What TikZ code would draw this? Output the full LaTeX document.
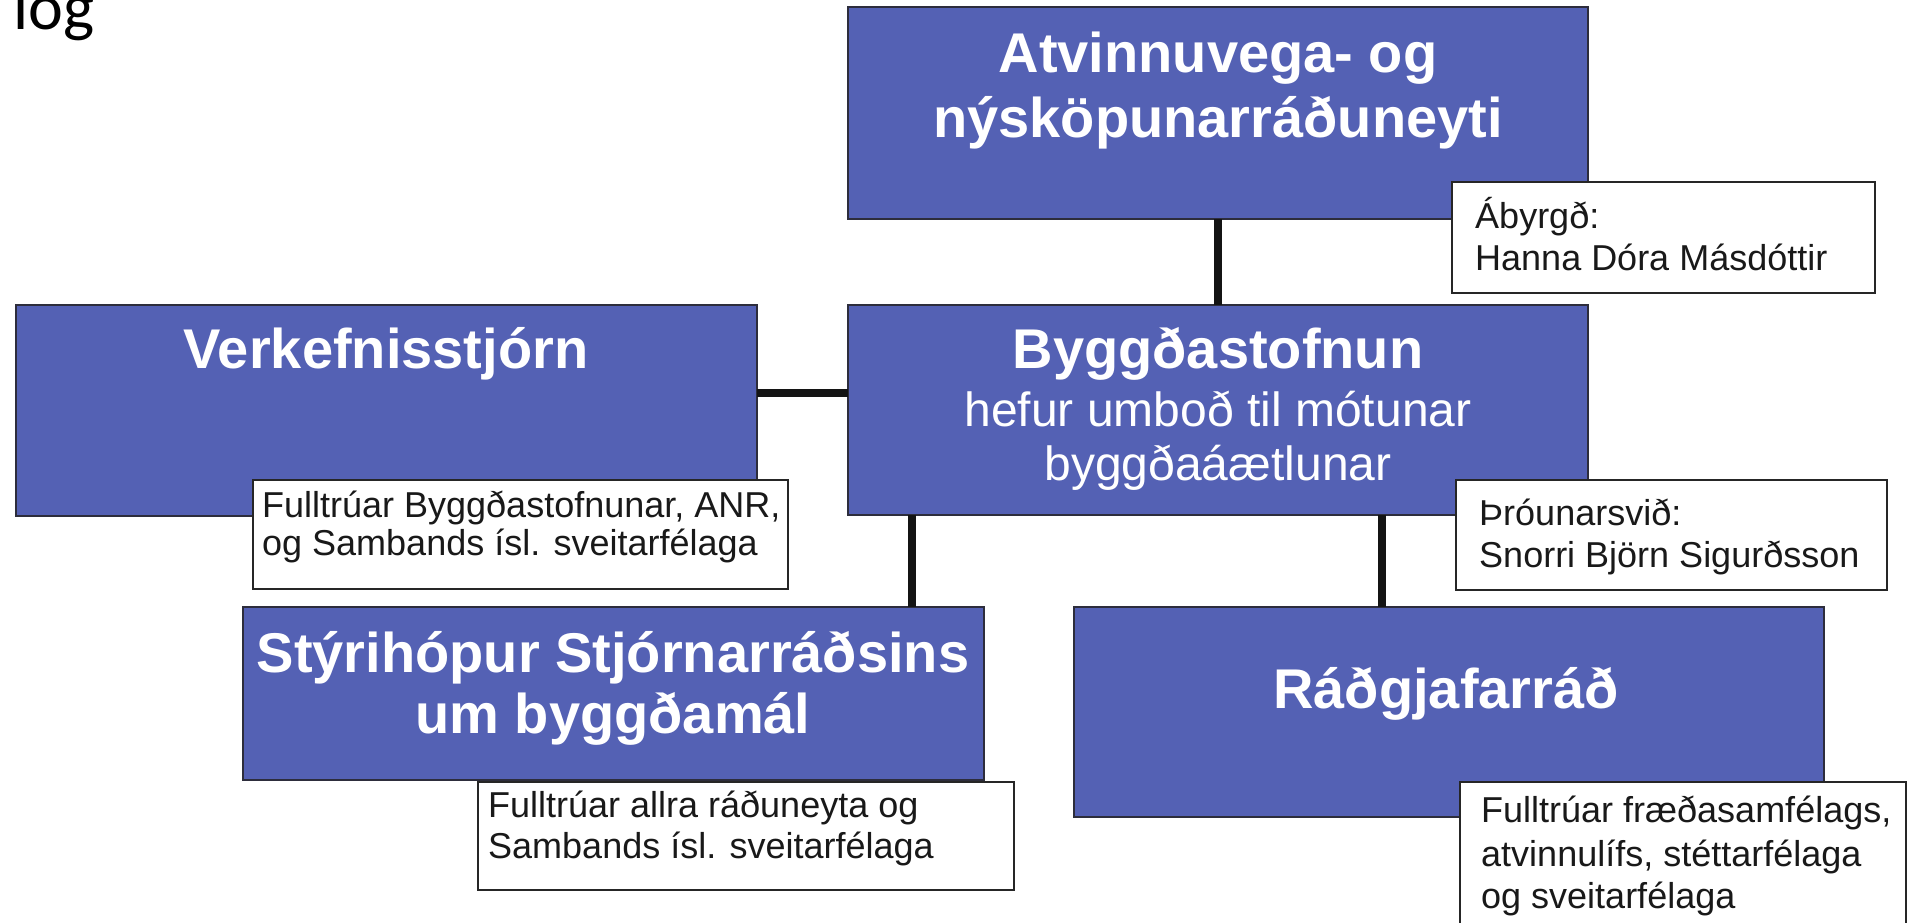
\documentclass[tikz,border=0pt]{standalone}
\usepackage{fontspec}
\setmainfont{Liberation Sans}
\newfontfamily\calfont{Carlito}
\definecolor{boxblue}{RGB}{84,97,180}
\definecolor{edgegray}{RGB}{45,45,60}
\begin{document}
\begin{tikzpicture}[x=1pt,y=-1pt,
  bluebox/.style={draw=edgegray, line width=1.6pt, fill=boxblue, rectangle, anchor=north west, inner sep=0pt, outer sep=0pt},
  notebox/.style={draw=black!85, line width=1.8pt, fill=white, rectangle, anchor=north west, inner sep=0pt, outer sep=0pt},
  conn/.style={line width=8.5pt, black!92},
  title/.style={font=\bfseries\fontsize{56}{67}\selectfont, text=white, anchor=base, inner sep=0pt},
  subtitle/.style={font=\fontsize{48}{58}\selectfont, text=white, anchor=base, inner sep=0pt},
  note/.style={font=\fontsize{36}{42}\selectfont, text=black!90, anchor=base west, inner sep=0pt}
]
\useasboundingbox[fill=white] (0,0) rectangle (1918,922);

% corner text
\node[font=\calfont\fontsize{66}{78}\selectfont, anchor=base west, inner sep=0pt] (log) at (13,29) {log};

% connectors (drawn first, boxes cover their ends)
\coordinate (cl) at (912,0);
\coordinate (cr) at (1382,0);
\coordinate (ch) at (0,393);

% blue boxes
\node[bluebox, minimum width=740pt, minimum height=212pt] (A) at (848,7) {};
\node[bluebox, minimum width=741pt, minimum height=211pt] (V) at (16,305) {};
\node[bluebox, minimum width=740pt, minimum height=210pt] (B) at (848,305) {};
\node[bluebox, minimum width=741pt, minimum height=173pt] (S) at (243,607) {};
\node[bluebox, minimum width=750pt, minimum height=210pt] (R) at (1074,607) {};

\draw[conn] (A.south) -- (B.north);
\draw[conn] (V.east |- ch) -- (B.west |- ch);
\draw[conn] (cl |- B.south) -- (cl |- S.north);
\draw[conn] (cr |- B.south) -- (cr |- R.north);

% titles
\node[title] (tA1) at (1218,72) {Atvinnuvega- og};
\node[title] (tA2) at (1218,137) {nýsköpunarráðuneyti};
\node[title] (tV) at (386,368) {Verkefnisstjórn};
\node[title] (tB1) at (1218,368) {Byggðastofnun};
\node[subtitle] (tB2) at (1218,426) {hefur umboð til mótunar};
\node[subtitle] (tB3) at (1218,480) {byggðaáætlunar};
\node[title] (tS1) at (613,672) {Stýrihópur Stjórnarráðsins};
\node[title] (tS2) at (613,733) {um byggðamál};
\node[title] (tR) at (1446,708) {Ráðgjafarráð};

% note boxes
\node[notebox, minimum width=423pt, minimum height=111pt] (nA) at (1452,182) {};
\node[note] (nA1) at (1475,228) {Ábyrgð:};
\node[note] (nA2) at (1475,270) {Hanna Dóra Másdóttir};

\node[notebox, minimum width=535pt, minimum height=109pt] (nV) at (253,480) {};
\node[note] (nV1) at (262,517) {Fulltrúar Byggðastofnunar, ANR,};
\node[note] (nV2) at (262,555) {og Sambands ísl. sveitarfélaga};

\node[notebox, minimum width=431pt, minimum height=110pt] (nB) at (1456,480) {};
\node[note] (nB1) at (1479,525) {Þróunarsvið:};
\node[note] (nB2) at (1479,567) {Snorri Björn Sigurðsson};

\node[notebox, minimum width=536pt, minimum height=108pt] (nS) at (478,782) {};
\node[note] (nS1) at (488,817) {Fulltrúar allra ráðuneyta og};
\node[note] (nS2) at (488,858) {Sambands ísl. sveitarfélaga};

\node[notebox, minimum width=446pt, minimum height=160pt] (nR) at (1460,782) {};
\node[note] (nR1) at (1481,822) {Fulltrúar fræðasamfélags,};
\node[note] (nR2) at (1481,866) {atvinnulífs, stéttarfélaga};
\node[note] (nR3) at (1481,908) {og sveitarfélaga};
\end{tikzpicture}
\end{document}
